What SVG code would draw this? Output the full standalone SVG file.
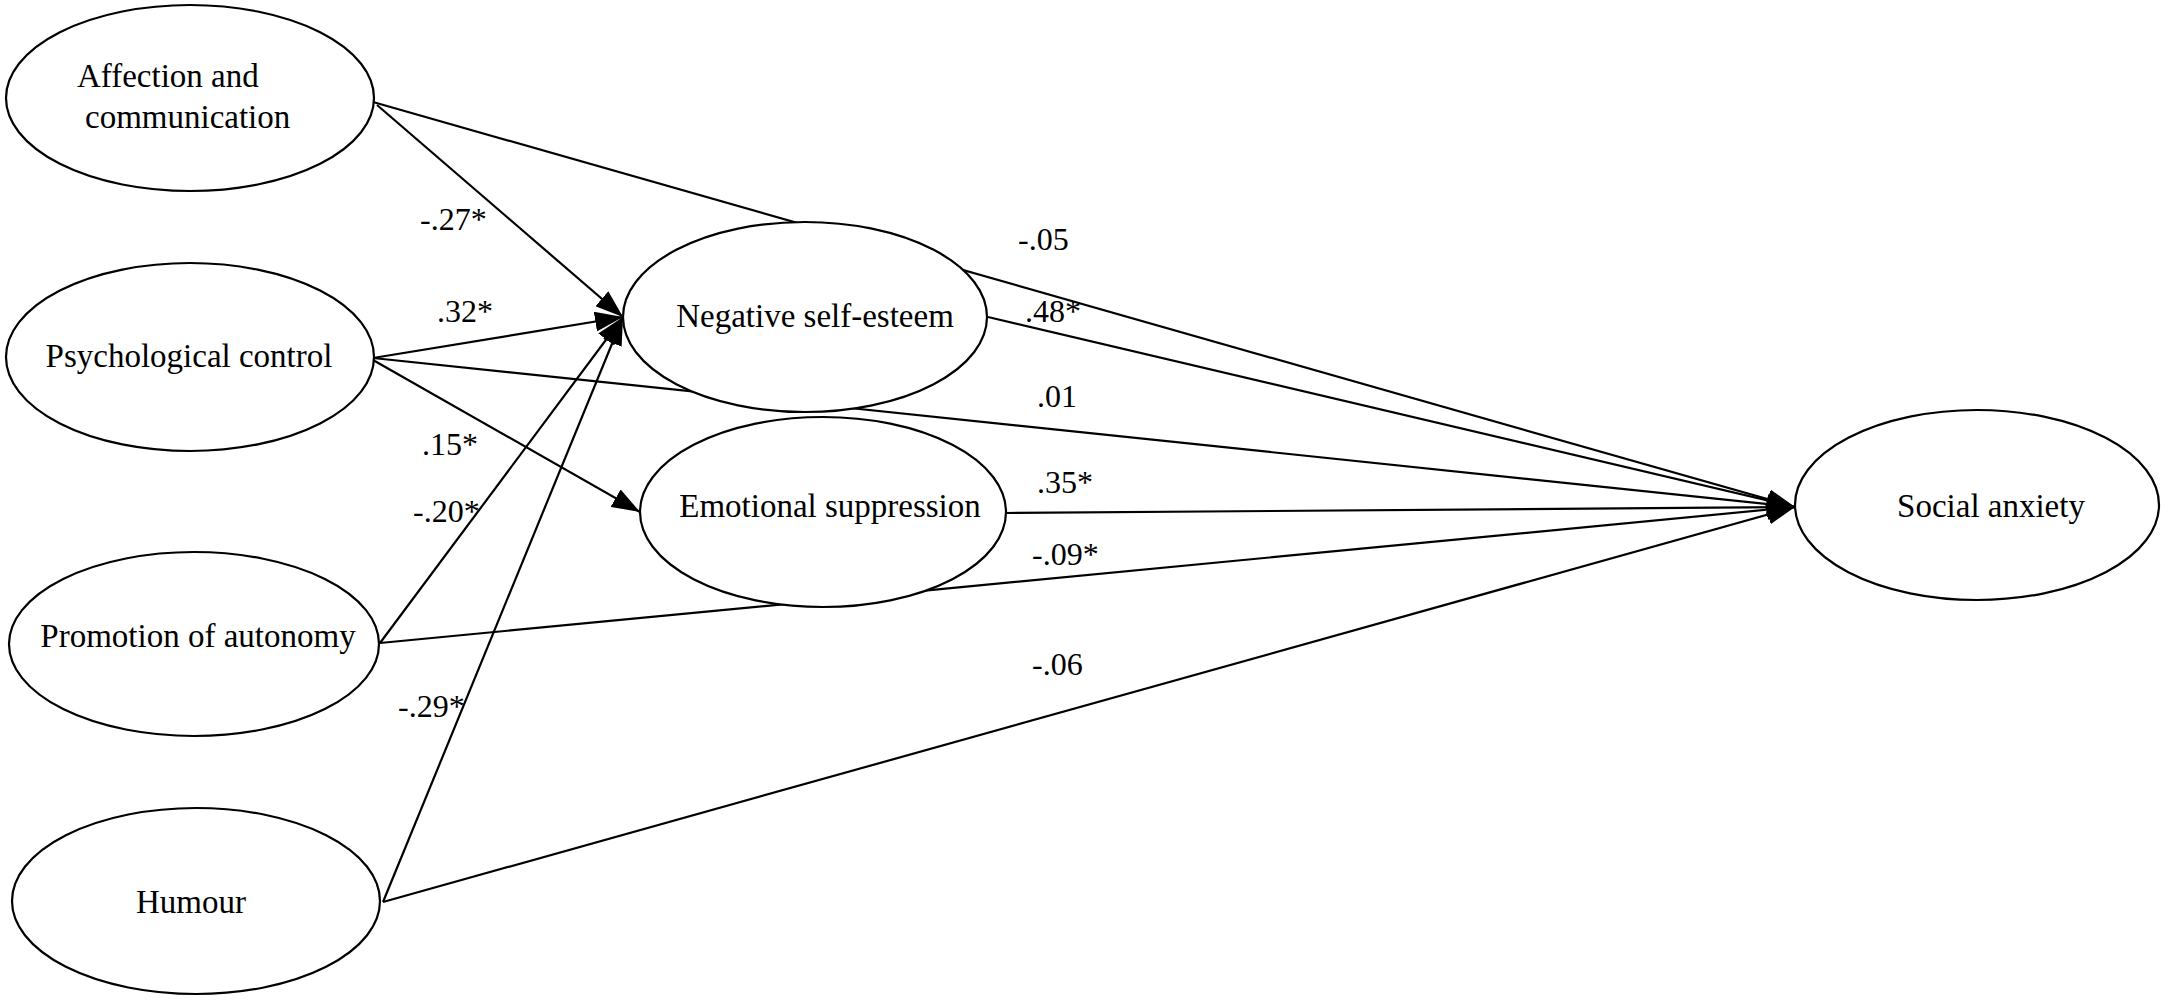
<svg xmlns="http://www.w3.org/2000/svg" width="2167" height="1000" viewBox="0 0 2167 1000">
<style>
.node{fill:#fff;stroke:#000;stroke-width:2.2}
.lbl{font-family:"Liberation Serif","Times New Roman",serif;font-size:33px;fill:#000}
.coef{font-family:"Liberation Serif","Times New Roman",serif;font-size:32px;fill:#000}
.edge{stroke:#000;stroke-width:2.2;fill:none;marker-end:url(#ah)}
</style>
<defs>
<marker id="ah" viewBox="0 0 28 20" refX="28" refY="10" markerWidth="28" markerHeight="20" markerUnits="userSpaceOnUse" orient="auto">
<path d="M0,0 L28,10 L0,20 z" fill="#000"/>
</marker>
</defs>
<rect width="2167" height="1000" fill="#fff"/>
<g id="connectors">
<line class="edge" x1="373" y1="102" x2="1795" y2="507"/>
<line class="edge" x1="377" y1="105" x2="623" y2="317"/>
<line class="edge" x1="373" y1="358" x2="623" y2="317"/>
<line class="edge" x1="373" y1="358" x2="1795" y2="507"/>
<line class="edge" x1="373" y1="360" x2="640" y2="512"/>
<line class="edge" x1="380" y1="643" x2="623" y2="317"/>
<line class="edge" x1="380" y1="643" x2="1795" y2="507"/>
<line class="edge" x1="383" y1="902" x2="623" y2="317"/>
<line class="edge" x1="383" y1="902" x2="1795" y2="507"/>
<line class="edge" x1="988" y1="317" x2="1795" y2="507"/>
<line class="edge" x1="1006" y1="513" x2="1795" y2="507"/>
</g>
<g id="node-affection">
<ellipse class="node" cx="190" cy="98" rx="184" ry="93"/>
<text class="lbl" x="77" y="87">Affection and</text>
<text class="lbl" x="85" y="128">communication</text>
</g>
<g id="node-psych">
<ellipse class="node" cx="190" cy="357" rx="184" ry="94"/>
<text class="lbl" x="189" y="367" text-anchor="middle">Psychological control</text>
</g>
<g id="node-promotion">
<ellipse class="node" cx="194" cy="644" rx="185" ry="92"/>
<text class="lbl" x="198" y="647" text-anchor="middle">Promotion of autonomy</text>
</g>
<g id="node-humour">
<ellipse class="node" cx="196" cy="901" rx="184" ry="93"/>
<text class="lbl" x="191" y="913" text-anchor="middle">Humour</text>
</g>
<g id="node-negative">
<ellipse class="node" cx="805" cy="317" rx="182" ry="95"/>
<text class="lbl" x="815" y="327" text-anchor="middle">Negative self-esteem</text>
</g>
<g id="node-emotional">
<ellipse class="node" cx="823" cy="512" rx="183" ry="95"/>
<text class="lbl" x="830" y="517" text-anchor="middle">Emotional suppression</text>
</g>
<g id="node-social">
<ellipse class="node" cx="1977" cy="505" rx="182" ry="95"/>
<text class="lbl" x="1991" y="517" text-anchor="middle">Social anxiety</text>
</g>
<g id="coefficients">
<text class="coef" x="420" y="230">-.27*</text>
<text class="coef" x="437" y="322">.32*</text>
<text class="coef" x="422" y="455">.15*</text>
<text class="coef" x="413" y="522">-.20*</text>
<text class="coef" x="398" y="717">-.29*</text>
<text class="coef" x="1018" y="250">-.05</text>
<text class="coef" x="1025" y="322">.48*</text>
<text class="coef" x="1037" y="407">.01</text>
<text class="coef" x="1037" y="493">.35*</text>
<text class="coef" x="1032" y="565">-.09*</text>
<text class="coef" x="1032" y="675">-.06</text>
</g>
</svg>
